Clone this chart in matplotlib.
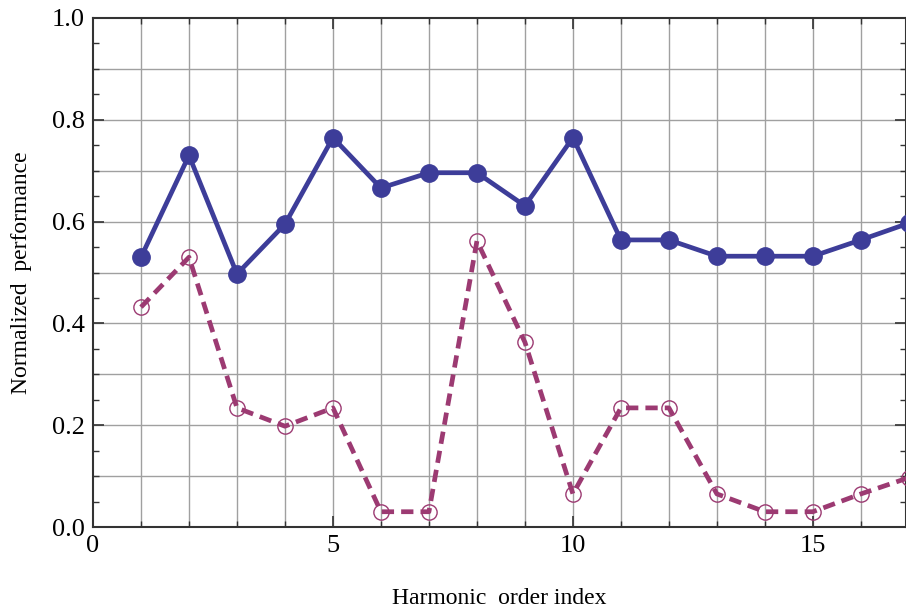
import matplotlib
matplotlib.use("Agg")
import matplotlib.pyplot as plt
import numpy as np
from matplotlib.ticker import MultipleLocator

plt.rcParams['font.family'] = ['Liberation Serif', 'DejaVu Serif']

x = list(range(1, 18))
series_a = [0.530, 0.730, 0.497, 0.595, 0.765, 0.666, 0.696, 0.696, 0.631,
            0.765, 0.564, 0.564, 0.532, 0.532, 0.532, 0.564, 0.597]
series_b = [0.432, 0.530, 0.234, 0.198, 0.234, 0.030, 0.030, 0.562, 0.363,
            0.065, 0.234, 0.234, 0.065, 0.030, 0.030, 0.065, 0.097]

W, H = 906, 612
fig = plt.figure(figsize=(W / 100, H / 100), dpi=100)
ax = fig.add_axes([93 / W, 1 - 527 / H, (905.5 - 93) / W, (527 - 18) / H])

ax.set_xlim(0, 16.93)
ax.set_ylim(0, 1.0)

for gx in range(1, 17):
    ax.axvline(gx, color='#a0a0a0', lw=1.0, zorder=0)
for gy in np.arange(0.1, 1.0, 0.1):
    ax.axhline(gy, color='#a0a0a0', lw=1.0, zorder=0)

ax.plot(x, series_a, color='#3d3d99', lw=3.4, marker='o', ms=12.5,
        markerfacecolor='#3d3d99', markeredgecolor='#3d3d99', zorder=3,
        solid_capstyle='round')
ax.plot(x, series_b, color='#9c3a72', lw=3.4, ls=(0, (2.6, 1.5)),
        marker='o', ms=11, markerfacecolor='none', markeredgecolor='#9c3a72',
        markeredgewidth=1.0, zorder=3)

ax.xaxis.set_major_locator(MultipleLocator(5))
ax.xaxis.set_minor_locator(MultipleLocator(1))
ax.yaxis.set_major_locator(MultipleLocator(0.2))
ax.yaxis.set_minor_locator(MultipleLocator(0.05))
ax.yaxis.set_major_formatter(matplotlib.ticker.FormatStrFormatter('%.1f'))

ax.tick_params(which='both', direction='in', top=True, right=True,
               color='#333333')
ax.tick_params(which='major', length=8, width=1.2, labelsize=19, pad=6)
ax.tick_params(which='minor', length=4, width=1.0)

for s in ax.spines.values():
    s.set_color('#333333')
    s.set_linewidth(1.5)

ax.set_xlabel('Harmonic  order index', fontsize=17, labelpad=22)
ax.set_ylabel('Normalized  performance', fontsize=17, labelpad=14)

fig.savefig('out.png', dpi=100)
